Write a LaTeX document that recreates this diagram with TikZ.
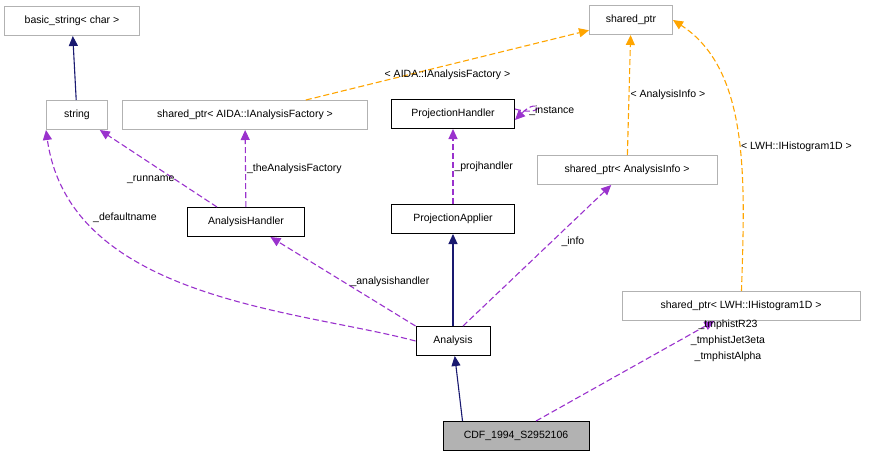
\documentclass[tikz,border=0pt]{standalone}
\usepackage{fontspec}
\setmainfont{Liberation Sans}
\usetikzlibrary{arrows.meta}
\definecolor{navy}{RGB}{25,25,112}
\definecolor{orchid}{RGB}{154,50,205}
\definecolor{orng}{RGB}{255,165,0}
\tikzset{
  cls/.style = {draw=black, line width=1pt, minimum height=29pt, inner xsep=6pt, font=\fontsize{10.5}{12}\selectfont},
  tmpl/.style = {cls, draw=gray!60},
  inh/.style = {draw=navy, line width=1.1pt, -{Triangle[length=10pt,width=9pt]}},
  use/.style = {draw=orchid, line width=1.1pt, dash pattern=on 6pt off 3pt, -{Triangle[length=10pt,width=9pt]}},
  inst/.style = {draw=orng, line width=1.1pt, dash pattern=on 6pt off 3pt, -{Triangle[length=10pt,width=9pt]}},
  lbl/.style = {font=\fontsize{10.5}{12}\selectfont, inner sep=1pt}
}
\begin{document}
\begin{tikzpicture}[x=1pt,y=-1pt]
\useasboundingbox (0,0) rectangle (896,456);
% classes
\node[tmpl, minimum width=135pt] (bstr) at (72,21) {basic\_string< char >};
\node[tmpl, minimum width=61pt] (str) at (77,115) {string};
\node[tmpl, minimum width=245pt] (aida) at (245,115) {shared\_ptr< AIDA::IAnalysisFactory >};
\node[cls, minimum width=123pt] (ph) at (453,114) {ProjectionHandler};
\node[tmpl, minimum width=83pt] (sp) at (631,20) {shared\_ptr};
\node[tmpl, minimum width=180pt] (info) at (627,170) {shared\_ptr< AnalysisInfo >};
\node[cls, minimum width=117pt] (ah) at (246,222) {AnalysisHandler};
\node[cls, minimum width=123pt] (pa) at (453,219) {ProjectionApplier};
\node[tmpl, minimum width=238pt] (lwh) at (741,306) {shared\_ptr< LWH::IHistogram1D >};
\node[cls, minimum width=74pt] (an) at (453,341) {Analysis};
\node[cls, fill=gray!60, minimum width=146pt] (cdf) at (516,436) {CDF\_1994\_S2952106};
% inheritance
\draw[inh] (str) -- (bstr);
\draw[inh] (an) -- (pa);
\draw[inh] (cdf.north west) ++(20,0) coordinate (c1) (c1) -- (an);
% usage
\draw[use] (ah.north west) ++(30,0) coordinate (ah1) (ah1) -- (str)
  node[lbl, pos=0.35, left] {\_runname};
\draw[use] (ah) -- (aida) node[lbl, midway, right] {\_theAnalysisFactory};
\draw[use] (an.west) .. controls (300,310) and (70,300) .. (str.south west);
\node[lbl] (dn) at (125,218) {\_defaultname};
\draw[use] (an.north west) -- (ah) node[lbl, midway, right=6pt] {\_analysishandler};
\draw[use] (pa) -- (ph) node[lbl, midway, right] {\_projhandler};
\draw[use] ([yshift=5pt]ph.east) .. controls (548,118) and (540,95) .. ([yshift=-6pt]ph.east)
  node[lbl, pos=0.1, right=4pt] {\_instance};
\draw[use] (an.north) ++(10,0) coordinate (an2) (an2) -- (info)
  node[lbl, pos=0.6, right=8pt] {\_info};
\draw[use] (cdf.north) ++(20,0) coordinate (c2) (c2) -- (lwh);
\node[lbl, align=center] (tmp) at (728,341) {\_tmphistR23\\[4pt]\_tmphistJet3eta\\[4pt]\_tmphistAlpha};
% template instances
\draw[inst] (aida) -- (sp) node[lbl, pos=0.5, below=3pt] {< AIDA::IAnalysisFactory >};
\draw[inst] (info) -- (sp) node[lbl, pos=0.5, right] {< AnalysisInfo >};
\draw[inst] (lwh) .. controls (745,180) and (750,70) .. (sp.east)
  node[lbl, pos=0.45, right] {< LWH::IHistogram1D >};
\end{tikzpicture}
\end{document}
